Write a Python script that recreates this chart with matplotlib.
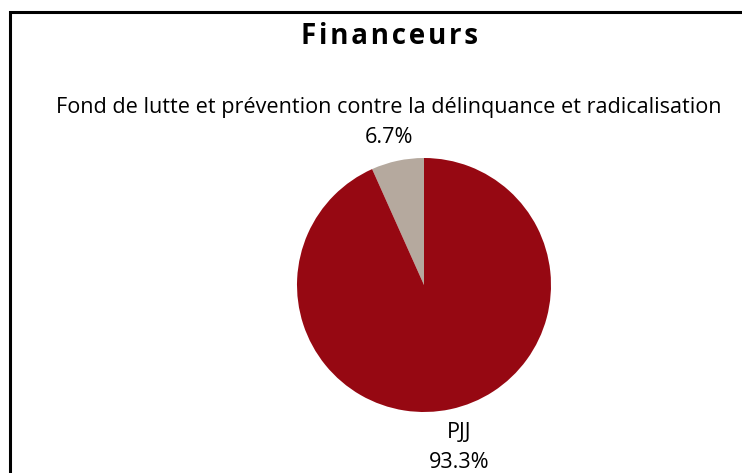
import matplotlib.pyplot as plt
from matplotlib.patches import Rectangle

# data
labels = ['Fond de lutte et prévention contre la délinquance et radicalisation', 'PJJ']
values = [6.7, 93.3]
colors = ['#b5a99e', '#960812']

W, H = 742, 473
fig = plt.figure(figsize=(W / 100, H / 100), dpi=100)
plt.rcParams['font.family'] = ['Open Sans', 'DejaVu Sans']

# border (cut off on right and bottom like the reference)
fig.patches.append(Rectangle((9.5 / W, -0.1), 1.2, (H - 12.5) / H + 0.1,
                             transform=fig.transFigure, fill=False,
                             edgecolor='black', linewidth=2.2))

fig.text(390 / W, 1 - 37 / H, 'F i n a n c e u r s'.replace(' ', '\u200a'),
         ha='center', va='center', fontsize=20, fontweight='bold')

cx, cy, r = 424, 285, 127
ax = fig.add_axes([(cx - r) / W, (H - cy - r) / H, 2 * r / W, 2 * r / H])
texts = [f'{l}\n{v}%' for l, v in zip(labels, values)]
wedges, txt = ax.pie(values, colors=colors, startangle=90, counterclock=True,
                     labels=texts, labeldistance=1.31,
                     textprops=dict(fontsize=15.6, linespacing=1.6))
for t in txt:
    t.set_horizontalalignment('center')
ax.set_xlim(-1, 1)
ax.set_ylim(-1, 1)
ax.set_aspect('equal')

fig.savefig('out.png', dpi=100)
